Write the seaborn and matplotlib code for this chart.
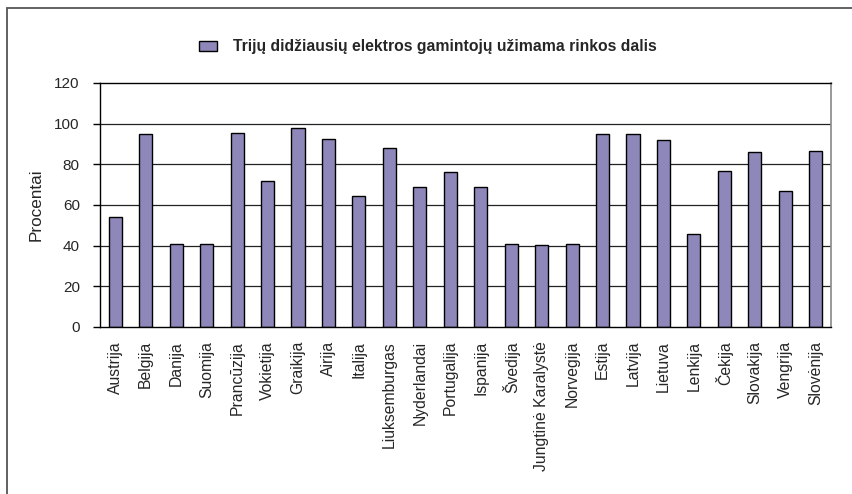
import matplotlib
matplotlib.use("Agg")
import matplotlib.pyplot as plt
from matplotlib.patches import Patch, Rectangle
import seaborn as sns
import pandas as pd

countries = ["Austrija", "Belgija", "Danija", "Suomija", "Prancūzija", "Vokietija",
             "Graikija", "Airija", "Italija", "Liuksemburgas", "Nyderlandai", "Portugalija",
             "Ispanija", "Švedija", "Jungtinė Karalystė", "Norvegija", "Estija", "Latvija",
             "Lietuva", "Lenkija", "Čekija", "Slovakija", "Vengrija", "Slovėnija"]
shares = [54, 95, 41, 41, 95.5, 72, 98, 92.5, 64.5, 88, 69, 76,
          69, 41, 40.5, 41, 95, 95, 92, 45.7, 76.5, 86, 67, 86.7]
yticks = [0, 20, 40, 60, 80, 100, 120]
series_name = "Trijų didžiausių elektros gamintojų užimama rinkos dalis"
ylabel = "Procentai"

bar_color = "#8E88BA"

sns.set_theme(style="white")
plt.rcParams["font.family"] = ["Liberation Sans", "DejaVu Sans"]

df = pd.DataFrame({"country": countries, "share": shares})

fig = plt.figure(figsize=(8.53, 4.94), dpi=100)
ax = fig.add_axes([100 / 853, 1 - 327 / 494, 731 / 853, 244 / 494])

sns.barplot(data=df, x="country", y="share", color=bar_color, edgecolor="black",
            linewidth=1.0, width=0.43, saturation=1, ax=ax)

ax.set_xlim(-0.5, len(countries) - 0.5)
ax.set_ylim(0, 120)
ax.set_yticks(yticks)
ax.set_yticklabels([str(v) for v in yticks], fontsize=11)
for v in yticks[1:-1]:
    ax.axhline(v, color="#222222", linewidth=0.9, zorder=0)

ax.set_xticks(range(len(countries)))
ax.set_xticklabels(countries, rotation=90, fontsize=11.3)
ax.set_xticks([i - 0.5 for i in range(len(countries) + 1)], minor=True)
ax.tick_params(axis="x", which="major", length=0, pad=10)
ax.tick_params(axis="x", which="minor", length=5, width=1, color="black", direction="out")
ax.tick_params(axis="y", which="major", length=5, width=1, color="black",
               direction="out", left=True, pad=9.5)

ax.set_xlabel("")
ax.set_ylabel(ylabel, fontsize=12.3, labelpad=8)

for side in ["left", "bottom", "top"]:
    ax.spines[side].set_color("black")
    ax.spines[side].set_linewidth(1.0)
ax.spines["right"].set_color("#888888")
ax.spines["right"].set_linewidth(1.2)

handles = [Patch(facecolor=bar_color, edgecolor="black", linewidth=1.0, label=series_name)]
fig.legend(handles=handles, loc="center", bbox_to_anchor=(428 / 853, 1 - 47 / 494),
           frameon=False, prop={"size": 11.3, "weight": "bold"},
           handlelength=1.15, handleheight=0.7, handletextpad=1.05)

# outer chart frame
fig.patches.append(Rectangle((7 / 853, -0.1), 1.2, 1 - 8 / 494 + 0.1,
                             transform=fig.transFigure, fill=False,
                             edgecolor="#555555", linewidth=1.3))

fig.savefig("out.png", dpi=100)
